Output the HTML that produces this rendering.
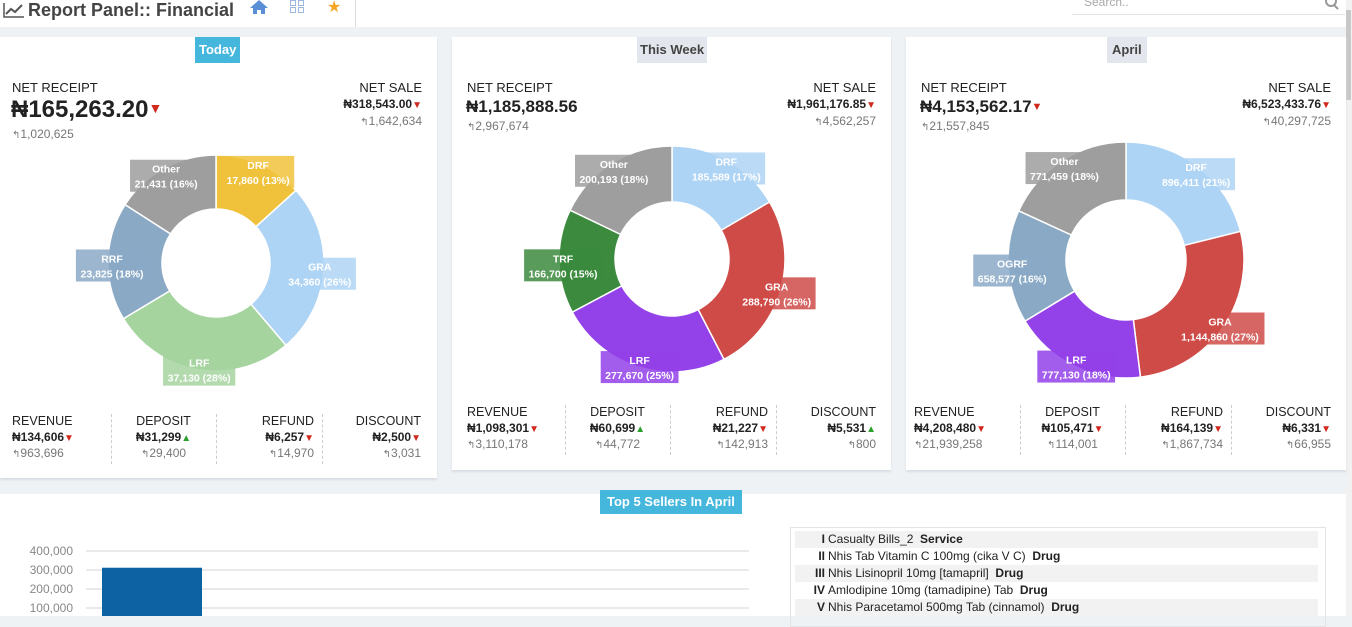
<!DOCTYPE html>
<html><head><meta charset="utf-8">
<style>
*{box-sizing:border-box;margin:0;padding:0}
body{width:1352px;height:616px;overflow:hidden;background:#eef2f5;font-family:"Liberation Sans",sans-serif;color:#222;position:relative}
.abs{position:absolute}
.hdr{left:0;top:0;width:1346px;height:27px;background:#fff}
.title{left:28px;top:0px;font-size:18px;font-weight:bold;color:#444}
.panel{background:#fff;box-shadow:0 2px 2px #d8dde2}
.badge{font-size:13px;font-weight:bold;padding:6px 5px;line-height:14px}
.lbl{font-size:13px;color:#222}
.slbl{font-size:12.5px;color:#222}
.sub{font-size:12px;color:#777}
.arr{font-size:10px;color:#777}
.dn{color:#d0281c;font-size:10px}
.up{color:#2ca02c;font-size:10px}
.val{font-size:12px;font-weight:bold;color:#222}
.col{position:absolute}
.dash{position:absolute;width:0;border-left:1px dashed #ccc;height:50px}
.row{position:absolute;left:795px;width:523px;height:17px;font-size:12px;line-height:17px;color:#222}
.row b{display:inline-block;width:30px;text-align:right;margin-right:3px}
</style></head><body>
<div class="abs hdr"></div>
<svg class="abs" style="left:3px;top:2px" width="22" height="16"><path d="M1 1V15H21" stroke="#555" fill="none" stroke-width="1.5"/><path d="M3 12L8 7L12 10L19 3" stroke="#555" fill="none" stroke-width="2"/></svg>
<div class="abs title">Report Panel:: Financial</div>
<svg class="abs" style="left:250px;top:0" width="18" height="14"><path d="M9 0L0 8H3V14H7V10H11V14H15V8H18Z" fill="#5a8fd6"/></svg>
<svg class="abs" style="left:290px;top:0" width="15" height="14"><g fill="none" stroke="#9bb8e0"><rect x="0.5" y="0.5" width="5" height="5"/><rect x="8.5" y="0.5" width="5" height="5"/><rect x="0.5" y="7.5" width="5" height="5"/><rect x="8.5" y="7.5" width="5" height="5"/></g></svg>
<div class="abs" style="left:327px;top:-3px;font-size:16px;color:#f5a623">★</div>
<div class="abs" style="left:355px;top:0;width:1px;height:27px;background:#ddd"></div>
<div class="abs" style="left:1072px;top:0;width:273px;height:15px;border-bottom:1px solid #e3e3e3;font-size:12px;color:#aaa;line-height:4px;padding-left:12px">Search..</div>
<svg class="abs" style="left:1325px;top:0" width="14" height="10"><circle cx="6" cy="1" r="5" stroke="#999" stroke-width="2" fill="none"/><path d="M9 5L13 9" stroke="#999" stroke-width="2"/></svg>
<div class="abs" style="left:1346px;top:0;width:6px;height:616px;background:#f1f1f1"><div style="width:5px;height:90px;background:#c8c8c8;margin-top:10px"></div></div>

<div class="abs panel" style="left:0;top:37px;width:437px;height:441px"></div>
<div class="abs panel" style="left:452px;top:37px;width:439px;height:433px"></div>
<div class="abs panel" style="left:906px;top:37px;width:440px;height:433px"></div>

<div class="abs badge" style="left:195px;top:37px;background:#45b6dc;color:#fff;padding:6px 4px">Today</div>
<div class="abs badge" style="left:637px;top:37px;background:#e3e7ed;color:#444;padding:6px 3px">This Week</div>
<div class="abs badge" style="left:1107px;top:37px;background:#e3e7ed;color:#444">April</div>

<div class="abs lbl" style="left:12px;top:80px">NET RECEIPT</div>
<div class="abs" style="left:11px;top:96px;font-size:24px;font-weight:bold">₦165,263.20<span style="color:#d0281c;font-size:14px;vertical-align:4px">▼</span></div>
<div class="abs sub" style="left:12px;top:127px"><span class="arr">↰</span>1,020,625</div>
<div class="abs lbl" style="right:930px;top:80px">NET SALE</div>
<div class="abs val" style="right:930px;top:97px">₦318,543.00<span class="dn">▼</span></div>
<div class="abs sub" style="right:930px;top:114px"><span class="arr">↰</span>1,642,634</div>

<div class="abs lbl" style="left:467px;top:80px">NET RECEIPT</div>
<div class="abs" style="left:466px;top:97px;font-size:17px;font-weight:bold">₦1,185,888.56</div>
<div class="abs sub" style="left:467px;top:119px"><span class="arr">↰</span>2,967,674</div>
<div class="abs lbl" style="right:476px;top:80px">NET SALE</div>
<div class="abs val" style="right:476px;top:97px">₦1,961,176.85<span class="dn">▼</span></div>
<div class="abs sub" style="right:476px;top:114px"><span class="arr">↰</span>4,562,257</div>

<div class="abs lbl" style="left:921px;top:80px">NET RECEIPT</div>
<div class="abs" style="left:920px;top:97px;font-size:17px;font-weight:bold">₦4,153,562.17<span style="color:#d0281c;font-size:11px;vertical-align:2px">▼</span></div>
<div class="abs sub" style="left:921px;top:119px"><span class="arr">↰</span>21,557,845</div>
<div class="abs lbl" style="right:21px;top:80px">NET SALE</div>
<div class="abs val" style="right:21px;top:97px">₦6,523,433.76<span class="dn">▼</span></div>
<div class="abs sub" style="right:21px;top:114px"><span class="arr">↰</span>40,297,725</div>

<div id="stats"></div>
<svg id="donuts" class="abs" style="left:0;top:0" width="1352" height="480"></svg>

<div class="abs" style="left:0;top:494px;width:1346px;height:122px;background:#fff"></div>
<div class="abs badge" style="left:600px;top:490px;background:#45b6dc;color:#fff;padding:5px 7px">Top 5 Sellers In April</div>
<svg id="bar" class="abs" style="left:0;top:494px" width="770" height="122"></svg>
<div class="abs" style="left:790px;top:527px;width:536px;height:100px;border:1px solid #e3e3e3"></div>
<div id="rows"></div>

<script>
const NS='http://www.w3.org/2000/svg';
const donut1Labels=['DRF','GRA','LRF','RRF','Other'];
const donut1Values=[17860,34360,37130,23825,21431];
const donut1Pcts=[13,26,28,18,16];
const donut2Labels=['DRF','GRA','LRF','TRF','Other'];
const donut2Values=[185589,288790,277670,166700,200193];
const donut2Pcts=[17,26,25,15,18];
const donut3Labels=['DRF','GRA','LRF','OGRF','Other'];
const donut3Values=[896411,1144860,777130,658577,771459];
const donut3Pcts=[21,27,18,16,18];

const palette={DRF1:'#f0c23c',GRA1:'#aed4f5',LRF1:'#a5d49f',RRF:'#8aa9c5',Other:'#9e9e9e',DRF:'#aed4f5',GRA:'#cf4b48',LRF:'#9341e9',TRF:'#3b8a3d',OGRF:'#8aa9c5'};
const svg=document.getElementById('donuts');
function fmt(v){return v.toLocaleString('en-US');}
function donut(labels,values,pcts,cx,cy,R,r,colorFn,name){
  const tot=values.reduce((a,b)=>a+b,0);
  let a0=0;
  const g=document.createElementNS(NS,'g');
  
  
  svg.appendChild(g);
  const labs=[];
  values.forEach((v,i)=>{
    const a1=a0+v/tot*2*Math.PI;
    const p=(a,rad)=>[cx+rad*Math.sin(a),cy-rad*Math.cos(a)];
    const [x1,y1]=p(a0,R),[x2,y2]=p(a1,R),[x3,y3]=p(a1,r),[x4,y4]=p(a0,r);
    const lg=(a1-a0)>Math.PI?1:0;
    const path=document.createElementNS(NS,'path');
    path.setAttribute('d',`M${x1},${y1}A${R},${R} 0 ${lg} 1 ${x2},${y2}L${x3},${y3}A${r},${r} 0 ${lg} 0 ${x4},${y4}Z`);
    path.setAttribute('fill',colorFn(labels[i]));
    path.setAttribute('stroke','#fff');
    path.setAttribute('stroke-width','1.5');
    
    
    g.appendChild(path);
    const am=(a0+a1)/2;
    labs.push([p(am,R-4),labels[i],fmt(v)+' ('+pcts[i]+'%)',colorFn(labels[i])]);
    a0=a1;
  });
  labs.forEach(([[lx,ly],t1,t2,c])=>{
    ly+=4;
    const w=t2.length*5.6+5,h=32;
    const rect=document.createElementNS(NS,'rect');
    rect.setAttribute('x',lx-w/2);rect.setAttribute('y',ly-h/2);
    rect.setAttribute('width',w);rect.setAttribute('height',h);
    rect.setAttribute('fill',c);rect.setAttribute('opacity','0.85');
    
    
    g.appendChild(rect);
    [[t1,-3],[t2,12]].forEach(([t,dy])=>{
      const tx=document.createElementNS(NS,'text');
      tx.setAttribute('x',lx);tx.setAttribute('y',ly+dy);
      tx.setAttribute('text-anchor','middle');
      tx.setAttribute('fill','#fff');
      tx.setAttribute('font-size','10.5');
      tx.setAttribute('font-weight','bold');
      tx.setAttribute('font-family','Liberation Sans, sans-serif');
      
      
      tx.textContent=t;
      g.appendChild(tx);
    });
  });
}
donut(donut1Labels,donut1Values,donut1Pcts,216,263,108,54,l=>palette[l+'1']||palette[l],'donut-today');
donut(donut2Labels,donut2Values,donut2Pcts,672,259,113,57,l=>palette[l],'donut-week');
donut(donut3Labels,donut3Values,donut3Pcts,1126,260,118,60,l=>palette[l],'donut-april');

const statNames=['REVENUE','DEPOSIT','REFUND','DISCOUNT'];
const stats1=['₦134,606','₦31,299','₦6,257','₦2,500'];const prev1=['963,696','29,400','14,970','3,031'];const dir1=['dn','up','dn','dn'];
const stats2=['₦1,098,301','₦60,699','₦21,227','₦5,531'];const prev2=['3,110,178','44,772','142,913','800'];const dir2=['dn','up','dn','up'];
const stats3=['₦4,208,480','₦105,471','₦164,139','₦6,331'];const prev3=['21,939,258','114,001','1,867,734','66,955'];const dir3=['dn','dn','dn','dn'];
const st=document.getElementById('stats');
function statRow(x0,y0,d1,d2,d3,right,vals,prevs,dirs){
  const al=['left','center','right','right'];
  const lefts=[x0,x0+d1,x0+d2,x0+d3];
  const rights=[x0+d1,x0+d2,x0+d3-8,x0+right];
  for(let i=0;i<4;i++){
    const d=document.createElement('div');
    d.className='col';
    d.style.left=lefts[i]+'px';d.style.width=(rights[i]-lefts[i])+'px';
    d.style.top=y0+'px';d.style.textAlign=al[i];
    
    
    d.innerHTML=`<div class="slbl">${statNames[i]}</div><div class="val" style="margin-top:2px">${vals[i]}<span class="${dirs[i]}">${dirs[i]=='up'?'▲':'▼'}</span></div><div class="sub" style="margin-top:2px"><span class="arr">↰</span>${prevs[i]}</div>`;
    st.appendChild(d);
    if(i>0){const ds=document.createElement('div');ds.className='dash';ds.style.left=lefts[i]+'px';ds.style.top=y0+'px';st.appendChild(ds);}
  }
}
statRow(12,414,99,204,310,409,stats1,prev1,dir1);
statRow(467,405,98,203,309,409,stats2,prev2,dir2);
statRow(914,405,106,211,317,417,stats3,prev3,dir3);

const barCats=['Casualty Bills_2'];
const barValues=[312000];
const yTicks=[100000,200000,300000,400000];
const yTickLabels=['100,000','200,000','300,000','400,000'];
const bar=document.getElementById('bar');
const y=v=>133-v*0.00019;
yTicks.forEach((t,i)=>{
  const l=document.createElementNS(NS,'line');
  l.setAttribute('x1',86);l.setAttribute('x2',749);l.setAttribute('y1',y(t));l.setAttribute('y2',y(t));
  l.setAttribute('stroke','#eaeaea');l.setAttribute('stroke-width','2');
  
  
  bar.appendChild(l);
  const tx=document.createElementNS(NS,'text');
  tx.setAttribute('x',73);tx.setAttribute('y',y(t)+4);tx.setAttribute('text-anchor','end');
  tx.setAttribute('font-size','12');tx.setAttribute('fill','#888');tx.setAttribute('font-family','Liberation Sans, sans-serif');
  
  
  tx.textContent=yTickLabels[i];
  bar.appendChild(tx);
});
barValues.forEach((v,i)=>{
  const r=document.createElementNS(NS,'rect');
  r.setAttribute('x',102+i*120);r.setAttribute('width',100);
  r.setAttribute('y',y(v));r.setAttribute('height',133-y(v));
  r.setAttribute('fill','#0d62a4');
  
  
  bar.appendChild(r);
});

const rowNums=['I','II','III','IV','V'];
const rowItems=['Casualty Bills_2','Nhis Tab Vitamin C 100mg (cika V C)','Nhis Lisinopril 10mg [tamapril]','Amlodipine 10mg (tamadipine) Tab','Nhis Paracetamol 500mg Tab (cinnamol)'];
const rowTypes=['Service','Drug','Drug','Drug','Drug'];
const rows=document.getElementById('rows');
rowItems.forEach((it,i)=>{
  const d=document.createElement('div');
  d.className='row';
  d.style.top=(531+i*17)+'px';
  d.style.background=i%2==0?'#f2f2f2':'#fff';
  
  
  d.innerHTML=`<b>${rowNums[i]}</b>${it}&nbsp; <b style="width:auto;text-align:left">${rowTypes[i]}</b>`;
  rows.appendChild(d);
});
</script>
</body></html>
